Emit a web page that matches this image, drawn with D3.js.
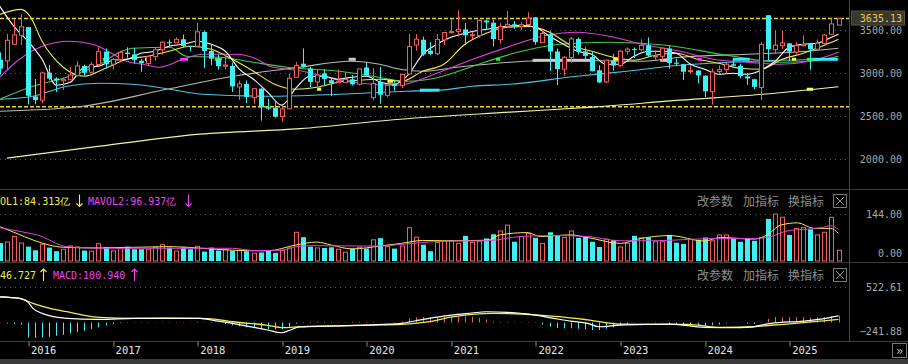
<!DOCTYPE html>
<html>
<head>
<meta charset="utf-8">
<style>
body { margin:0; background:#000; }
svg { display:block; }
text { font-family:"DejaVu Sans Mono","Liberation Mono",monospace; }
.cjk { font-family:"Noto Sans CJK SC",sans-serif; }
</style>
</head>
<body>
<svg width="908" height="364"></svg>
<script src="https://cdnjs.cloudflare.com/ajax/libs/d3/7.8.5/d3.min.js"></script>
<script>

// monthly candles, 2015-09 .. 2025-08
var open = [3157,3144,3337,3441,
  3536,2730,2687,3007,2939,2913,2924,2974,3084,3011,3102,3251,
  3105,3160,3240,3219,3145,3113,3193,3272,3360,3353,3395,3317,
  3314,3479,3259,3163,3081,3084,2841,2875,2717,2821,2604,2598,
  2497,2587,2954,3111,3055,2898,2998,2919,2890,2894,2929,2872,
  3067,2716,2899,2743,2878,2856,2991,3328,3389,3262,3227,3388,
  3474,3486,3509,3441,3437,3613,3587,3390,3546,3569,3546,3566,
  3649,3356,3451,3252,3047,3182,3398,3253,3190,3034,2899,3148,
  3087,3255,3282,3273,3325,3197,3197,3288,3123,3104,3022,3031,
  2972,2785,3020,3044,3104,3086,2964,2930,2835,3674,3273,3319,
  3347,3247,3320,3342,3280,3345,3453,3559];
var high = [3243,3457,3632,3684,
  3539,2934,3018,3097,2953,2951,3070,3140,3100,3132,3301,3288,
  3174,3261,3301,3295,3165,3200,3306,3375,3391,3418,3450,3320,
  3587,3495,3334,3220,3219,3124,2915,2916,2827,2827,2703,2667,
  2630,2997,3129,3288,3074,3048,3048,2944,3042,3009,2979,3053,
  3128,3058,3074,2862,2917,2995,3458,3455,3426,3361,3456,3474,
  3637,3732,3585,3481,3625,3627,3621,3581,3723,3608,3595,3708,
  3652,3507,3488,3286,3201,3424,3416,3301,3256,3092,3159,3226,
  3270,3300,3298,3394,3418,3263,3295,3322,3170,3108,3092,3036,
  2976,3055,3091,3119,3175,3111,3004,2936,3358,3674,3498,3494,
  3352,3362,3440,3353,3392,3455,3636,3645];
var low = [2983,3039,3327,3327,
  2638,2639,2652,2919,2781,2807,2924,2961,2969,3004,3092,3056,
  3044,3136,3180,3111,3016,3089,3147,3216,3317,3352,3301,3254,
  3314,3062,3091,3041,3041,2782,2691,2653,2644,2449,2573,2484,
  2440,2587,2952,3065,2838,2822,2862,2733,2890,2891,2857,2858,
  2967,2685,2646,2719,2797,2826,2989,3264,3202,3209,3212,3325,
  3463,3427,3328,3395,3414,3511,3312,3344,3536,3515,3505,3566,
  3331,3356,3023,2863,2970,3123,3219,3155,3021,2886,2885,3031,
  3073,3216,3174,3253,3191,3146,3131,3053,3085,2923,2996,2882,
  2724,2635,2993,2995,3086,2941,2865,2815,2689,3152,3229,3285,
  3140,3212,3311,3040,3256,3336,3449,3559];
var close = [3053,3383,3445,3539,
  2738,2688,3004,2938,2917,2930,2979,3085,3005,3100,3250,3104,
  3159,3242,3223,3155,3117,3192,3273,3361,3349,3393,3317,3307,
  3481,3259,3169,3082,3095,2847,2876,2725,2821,2603,2588,2494,
  2585,2941,3091,3078,2899,2979,2933,2886,2905,2929,2871,3050,
  2977,2880,2750,2860,2852,2985,3310,3396,3218,3225,3392,3473,
  3483,3509,3441,3447,3615,3591,3397,3544,3568,3547,3564,3640,
  3362,3462,3252,3047,3186,3399,3253,3202,3024,2893,3151,3089,
  3256,3280,3273,3323,3205,3202,3291,3120,3110,3018,3030,2975,
  2789,3015,3041,3105,3087,2967,2939,2842,3336,3279,3326,3352,
  3251,3321,3336,3279,3347,3444,3573,3635];

// volume, 亿手
var volume = [55,58,75,55,
  44,33,51,41,30,36,46,43,32,30,53,43,
  31,39,44,36,36,36,42,50,41,30,42,36,
  45,29,41,32,36,31,33,30,24,26,33,25,
  33,40,88,73,44,40,40,42,36,27,38,42,
  38,65,70,44,38,46,102,73,50,30,57,60,
  62,54,77,57,61,69,82,92,110,59,75,85,
  71,54,88,78,72,92,71,75,59,43,67,64,
  43,54,77,71,72,59,59,80,56,52,66,64,
  72,62,80,80,69,59,69,62,72,129,144,134,
  80,100,103,97,80,88,134,33];

// MACD bars
var macdBar = [5,-15,-25,-30,
  -220,-225,-220,-210,-195,-180,-160,-140,-120,-95,-70,-45,
  -25,-10,-5,-5,-5,-5,-3,5,5,5,5,5,
  10,5,5,-5,-20,-40,-55,-70,-80,-95,-100,-100,
  -95,-60,-15,10,12,12,12,12,10,10,10,12,
  12,10,5,5,8,15,60,75,80,75,80,85,
  90,95,90,85,70,45,15,10,10,5,5,5,
  -5,-30,-60,-80,-85,-85,-90,-100,-110,-110,-90,-70,
  -45,-20,-5,3,3,-5,-5,-25,-35,-45,-45,-50,
  -55,-40,-30,-10,-5,-5,-15,-20,10,55,80,85,
  80,80,80,75,75,80,90,101];

// moving averages: [month index, value]
var ma5 = [[0,3777],[2,3545],[4,3371],[6,3162],[8,2861],[10,2896],[12,3070],[14,3081],[16,3151],[18,3162],
  [20,3232],[22,3255],[24,3313],[26,3336],[28,3371],[30,3336],[32,3255],[34,3046],[36,2930],[38,2780],
  [40,2629],[42,2826],[44,2965],[46,2965],[48,2930],[50,2954],[52,2965],[54,2896],[56,2872],[58,2988],
  [60,3220],[62,3336],[64,3418],[66,3464],[68,3499],[70,3522],[72,3545],[74,3557],[76,3534],[78,3429],
  [80,3336],[82,3255],[84,3220],[86,3104],[88,3104],[90,3197],[92,3255],[94,3255],[96,3232],[98,3104],
  [100,3046],[102,2988],[104,3000],[106,2988],[108,3035],[110,3139],[112,3302],[114,3336],[116,3348],
  [118,3418],[119,3452]];
var ma10 = [[0,3684],[3,3742],[4.3,3661],[6,3371],[9,3070],[12,2965],[15,3058],[18,3162],[21,3197],
  [24,3255],[27,3313],[30,3278],[33,3162],[36,3023],[39,2872],[42,2814],[45,2837],[48,2896],[51,2919],
  [54,2930],[57,2907],[60,3023],[63,3104],[66,3336],[69,3464],[72,3534],[75,3545],[78,3476],[81,3325],
  [84,3255],[87,3186],[90,3151],[93,3209],[96,3232],[99,3162],[102,3116],[105,3058],[108,3046],
  [111,3162],[114,3232],[117,3325],[119,3394]];
var ma20 = [[0,2954],[2.8,3162],[5.7,3302],[9.9,3371],[13.2,3336],[15.6,3244],[18,3139],[20.3,3104],
  [22.7,3070],[26,3162],[28.8,3220],[33.6,3220],[36.5,3162],[38.3,3081],[43,3023],[48.2,2919],
  [52.9,2872],[56.3,2861],[62.4,3012],[67.1,3162],[72.4,3313],[77,3429],[81.9,3476],[86.5,3429],
  [91.2,3336],[96.5,3255],[101.2,3162],[106,3128],[110.7,3104],[114.9,3139],[119,3244]];
var ma30 = [[0,2698],[4.3,2838],[9.5,2954],[14.2,3104],[17,3244],[18.9,3290],[24.1,3302],[26.5,3197],
  [31.2,3186],[35.9,3128],[40.7,3070],[48.2,3023],[52.9,2965],[57.7,2907],[62.4,2954],[67.1,3081],
  [72.4,3220],[79.5,3336],[86.5,3360],[94.6,3325],[104,3197],[110.7,3128],[114.9,3139],[119,3197]];
var ma60 = [[0,2698],[4.7,2733],[9.5,2849],[14.2,2884],[18.9,2872],[24.1,2814],[28.8,2756],[38.3,2733],
  [48.2,2756],[57.7,2791],[62.4,2803],[67.1,2849],[72.4,2872],[81.9,2965],[89,3023],[96.5,3093],
  [103.6,3128],[110.7,3151],[119,3162]];
var ma120 = [[0,2559],[11.8,2617],[23.7,2814],[33.1,2965],[42.6,3070],[49.7,3139],[53.9,3104],
  [56.8,3046],[60,3023],[64.8,3070],[72.4,3128],[79.5,3151],[91.2,3139],[96.5,3186],[106,3220],
  [114.5,3255],[119,3290]];
var ma250 = [[1,2014],[14.2,2153],[28.4,2292],[42.6,2356],[56.8,2466],[72.4,2548],[84.1,2606],
  [96.5,2687],[108.3,2756],[119,2843]];

// short thick marks on the average lines: [month index, value, length in months, colour]
var marks = [[14.6,3162,0.8,"#33ee33"],[15.9,3150,0.6,"#ff33ff"],[20.6,3162,0.8,"#ffff33"],
  [25.6,3162,1.1,"#ff33ff"],[30.5,3162,1.0,"#33ee33"],[45,2814,0.6,"#ffff33"],[49.5,3162,1.0,"#cccccc"],
  [55,2907,0.8,"#ffff33"],[59.6,2803,2.8,"#33e8f8"],[70.4,3162,0.6,"#33ee33"],[75.6,3150,8.5,"#cccccc"],
  [87,3162,1.4,"#ffff33"],[93.7,3150,1.7,"#cccccc"],[99,3162,0.6,"#ff33ff"],[104,3162,2.4,"#33e8f8"],
  [112.4,3162,0.6,"#ffff33"],[114.5,3162,0.9,"#33ee33"],[115.4,3162,3.5,"#33e8f8"],[114.5,2814,0.9,"#ffff66"]];

var mavol1 = [[0,105],[2,88],[5,62],[7,49],[9,42],[14,40],[24,44],[33,33],[38,31],[42,49],[45,58],
  [47,49],[50,37],[54,46],[57,54],[60,63],[63,62],[64.4,62],[69.2,64],[71,80],[74.8,87],[76.7,75],
  [81,80],[83.4,72],[88.1,54],[90.5,67],[95.2,78],[99.9,61],[102.3,72],[107,67],[108.9,80],
  [110.8,110],[113.2,117],[115.5,100],[117.9,100],[119,84.313]];
var mavol2 = [[0,102],[3,90],[6,75],[8,54],[9.5,44],[14,39],[33,39],[36,32],[40,33],[42,44],[45,47],
  [50,46],[54,46],[57,51],[61.5,59],[64.4,61],[69.2,62],[73.9,75],[78.6,78],[83.4,75],[88.1,62],
  [92.8,62],[97.6,66],[102.3,69],[107,69],[109.4,75],[111.7,92],[114.1,97],[116.5,102],[117.9,108],
  [119,96.937]];

var dif = [[0,379],[2.8,356],[4,300],[4.7,209],[6,135],[9.5,62],[14,47],[19,62],[23.7,66],[28.4,62],
  [31,20],[33,-12],[36,-70],[38,-110],[40,-150],[41.2,-110],[42.6,-62],[47,-51],[52,-37],[57,-12],
  [59,26],[62,80],[64,110],[67,140],[69,159],[72,150],[76,110],[78.6,62],[81,20],[83.4,-12],[85,-62],
  [88,-37],[92,-25],[95.2,-22],[100,-71],[105,-76],[107,-60],[109.4,-12],[114,22],[116.5,50],[119,97]];
var dea = [[0,379],[2.8,356],[4.7,282],[7.1,209],[9.5,159],[11.8,110],[14.2,76],[19,62],[24,62],
  [28.4,62],[30.7,47],[33,12],[37.8,-37],[40.2,-76],[42.6,-62],[47,-51],[52,-37],[57,-26],[61,12],
  [64,80],[67,120],[70,135],[74,125],[77,105],[80,80],[83.4,40],[88,-22],[93,-26],[97.6,-26],
  [102.3,-71],[107,-62],[109.4,-40],[111.7,-22],[116.5,22],[119,46.727]];

var years = ["2016","2017","2018","2019","2020","2021","2022","2023","2024","2025"];
var yearIdx = [4,16,28,40,52,64,76,88,100,112];
var mainTicks = [3500,3000,2500,2000];
var lastPrice = 3635.13, lowLine = 2612;

var svg = d3.select("svg");
var plotR = 849;
var up = "#f25f5c", down = "#3ff0f2";

var x = d3.scaleLinear().domain([0, 119]).range([-0.2, 838.5]);
var yMain = d3.scaleLinear().domain([2000, 3500]).range([159.3, 30.2]);
var yVol = d3.scaleLinear().domain([0, 144]).range([261, 214]);
var yMacd = d3.scaleLinear().domain([-241.88, 522.61]).range([339, 287]);

svg.append("rect").attr("width", 908).attr("height", 364).attr("fill", "#000");

var defs = svg.append("defs");
function clip(id, y0, h) {
  defs.append("clipPath").attr("id", id).append("rect")
    .attr("x", 0).attr("y", y0).attr("width", plotR).attr("height", h);
}
clip("cMain", 0, 189);
clip("cVol", 190, 72);
clip("cMacd", 263, 78);

function cx(i) { return Math.round(x(i)) + 0.5; }

// ---------- main panel ----------
var gm = svg.append("g").attr("clip-path", "url(#cMain)");

gm.selectAll(".grid").data(mainTicks).enter().append("line")
    .attr("x1", 0).attr("x2", plotR)
    .attr("y1", function(d) { return Math.round(yMain(d)) + 0.5; })
    .attr("y2", function(d) { return Math.round(yMain(d)) + 0.5; })
    .attr("stroke", "#5a5a5a").attr("stroke-dasharray", "1,4");

[lastPrice, lowLine].forEach(function(v) {
  gm.append("line")
      .attr("x1", 0).attr("x2", plotR)
      .attr("y1", yMain(v)).attr("y2", yMain(v))
      .attr("stroke", "#e8d528").attr("stroke-width", 1.5)
      .attr("stroke-dasharray", "4,2");
});

var maLine = d3.line()
    .x(function(d) { return x(d[0]); })
    .y(function(d) { return yMain(d[1]); })
    .curve(d3.curveMonotoneX);

[[ma250, "#f2f2a0"], [ma120, "#b8b8b8"], [ma60, "#4cc4e6"], [ma30, "#44cc44"],
 [ma20, "#e040e0"], [ma10, "#f2ee48"], [ma5, "#ffffff"]].forEach(function(s) {
  gm.append("path").datum(s[0])
      .attr("fill", "none").attr("stroke", s[1]).attr("stroke-width", 1.1)
      .attr("d", maLine);
});

gm.selectAll(".mark").data(marks).enter().append("rect")
    .attr("x", function(d) { return x(d[0]); })
    .attr("y", function(d) { return yMain(d[1]) - 1.5; })
    .attr("width", function(d) { return x(d[0] + d[2]) - x(d[0]); })
    .attr("height", 3)
    .attr("fill", function(d) { return d[3]; });

var idx = d3.range(open.length);
var candle = gm.selectAll(".candle").data(idx).enter().append("g");
candle.append("line")
    .attr("x1", cx).attr("x2", cx)
    .attr("y1", function(i) { return yMain(high[i]); })
    .attr("y2", function(i) { return yMain(low[i]); })
    .attr("stroke", function(i) { return close[i] >= open[i] ? up : down; });
candle.append("rect")
    .attr("x", function(i) { return close[i] >= open[i] ? cx(i) - 2 : cx(i) - 2.5; })
    .attr("width", function(i) { return close[i] >= open[i] ? 4 : 5; })
    .attr("y", function(i) { return yMain(Math.max(open[i], close[i])); })
    .attr("height", function(i) { return Math.max(1, Math.abs(yMain(open[i]) - yMain(close[i]))); })
    .attr("fill", function(i) { return close[i] >= open[i] ? "#000" : down; })
    .attr("stroke", function(i) { return close[i] >= open[i] ? up : "none"; });

// ---------- volume panel ----------
var gv = svg.append("g").attr("clip-path", "url(#cVol)");
gv.append("line").attr("x1", 0).attr("x2", plotR)
    .attr("y1", Math.round(yVol(144)) + 0.5).attr("y2", Math.round(yVol(144)) + 0.5)
    .attr("stroke", "#5a5a5a").attr("stroke-dasharray", "1,4");
gv.selectAll(".vol").data(idx).enter().append("rect")
    .attr("x", function(i) { return close[i] >= open[i] ? cx(i) - 2 : cx(i) - 2.5; })
    .attr("width", function(i) { return close[i] >= open[i] ? 4 : 5; })
    .attr("y", function(i) { return yVol(volume[i]); })
    .attr("height", function(i) { return yVol(0) - yVol(volume[i]); })
    .attr("fill", function(i) { return close[i] >= open[i] ? "#000" : down; })
    .attr("stroke", function(i) { return close[i] >= open[i] ? up : "none"; });
var volLine = d3.line()
    .x(function(d) { return x(d[0]); })
    .y(function(d) { return yVol(d[1]); })
    .curve(d3.curveMonotoneX);
gv.append("path").datum(mavol1).attr("fill", "none").attr("stroke", "#f2ee48").attr("d", volLine);
gv.append("path").datum(mavol2).attr("fill", "none").attr("stroke", "#e040e0").attr("d", volLine);

// ---------- MACD panel ----------
var gc = svg.append("g").attr("clip-path", "url(#cMacd)");
gc.append("line").attr("x1", 0).attr("x2", plotR)
    .attr("y1", Math.round(yMacd(522.61)) + 0.5).attr("y2", Math.round(yMacd(522.61)) + 0.5)
    .attr("stroke", "#5a5a5a").attr("stroke-dasharray", "1,4");
gc.selectAll(".bar").data(idx).enter().append("line")
    .attr("x1", cx).attr("x2", cx)
    .attr("y1", yMacd(0))
    .attr("y2", function(i) { return yMacd(macdBar[i]); })
    .attr("stroke", function(i) { return macdBar[i] >= 0 ? up : down; });
var macdLine = d3.line()
    .x(function(d) { return x(d[0]); })
    .y(function(d) { return yMacd(d[1]); })
    .curve(d3.curveMonotoneX);
gc.append("path").datum(dea).attr("fill", "none").attr("stroke", "#f2ee48").attr("stroke-width", 1.3).attr("d", macdLine);
gc.append("path").datum(dif).attr("fill", "none").attr("stroke", "#ffffff").attr("stroke-width", 1.2).attr("d", macdLine);

// ---------- frames ----------
var frame = "#3c3c3c";
[189.5, 262.5, 341.5].forEach(function(y) {
  svg.append("line").attr("x1", 0).attr("x2", 908).attr("y1", y).attr("y2", y).attr("stroke", frame);
});
svg.append("line").attr("x1", plotR + 0.5).attr("x2", plotR + 0.5).attr("y1", 0).attr("y2", 342)
    .attr("stroke", "#4a4a4a");
svg.append("rect").attr("x", 0).attr("y", 359).attr("width", 908).attr("height", 5).attr("fill", "#3a3a3a");

// right axes
function rightAxis(scale, vals, color) {
  var g = svg.append("g").attr("transform", "translate(902,0)")
      .call(d3.axisLeft(scale).tickValues(vals).tickFormat(d3.format(".2f")).tickSize(0).tickPadding(0));
  g.select(".domain").remove();
  g.selectAll("text").attr("fill", color).attr("font-size", 10)
      .style("font-family", "'DejaVu Sans Mono',monospace");
  return g;
}
rightAxis(yMain, mainTicks, "#a8a8a8");
var gvA = rightAxis(yVol, [144, 0], "#a8a8a8");
gvA.selectAll("text").attr("dy", function(d) { return d === 0 ? "-0.5em" : "0.3em"; });
var gcA = rightAxis(yMacd, [522.61, -241.88], "#a8a8a8");
gcA.selectAll("text").attr("dy", function(d) { return d < 0 ? "-0.5em" : "0.32em"; });

svg.append("rect").attr("x", 851.5).attr("y", yMain(lastPrice) - 7.5).attr("width", 53).attr("height", 14)
    .attr("fill", "#38382e").attr("stroke", "#55554a");
svg.append("text").attr("x", 902).attr("y", yMain(lastPrice) + 3.5).attr("text-anchor", "end")
    .attr("font-size", 10).attr("fill", "#f0c850").text(d3.format(".2f")(lastPrice));

// time axis
var gx = svg.append("g").attr("transform", "translate(0,341.5)")
    .call(d3.axisBottom(x).tickValues(yearIdx)
      .tickFormat(function(d, k) { return years[k]; }).tickSize(5).tickPadding(3));
gx.select(".domain").remove();
gx.selectAll("line").attr("stroke", "#8a8a8a").attr("transform", function(d) { return "translate(" + (cx(d) - x(d)) + ",0)"; });
gx.selectAll("text").attr("fill", "#e6e6e6").attr("font-size", 10.5).attr("text-anchor", "start")
    .attr("x", 2.5).attr("y", 5).style("font-family", "'DejaVu Sans Mono',monospace");

svg.append("rect").attr("x", 892.5).attr("y", 343.5).attr("width", 14).attr("height", 14)
    .attr("fill", "none").attr("stroke", "#7a7a7a");
svg.append("text").attr("x", 899.5).attr("y", 354.5).attr("text-anchor", "middle")
    .attr("font-size", 12).attr("fill", "#bbbbbb").text("»");

// legends (left part of each title runs off the panel edge, as in the reference)
function legend(y, items) {
  items.forEach(function(it) {
    svg.append("text").attr("x", it[0]).attr("y", y).attr("font-size", 10)
        .attr("fill", it[2]).text(it[1]);
  });
}
function arrow(xa, yc, dir, color) {
  var t = yc - 6, b = yc + 6, tip = dir > 0 ? t : b, s = dir > 0 ? 3 : -3;
  svg.append("path")
      .attr("d", "M" + xa + "," + t + "V" + b + "M" + (xa - 3) + "," + (tip + s) + "L" + xa + "," + tip + "L" + (xa + 3) + "," + (tip + s))
      .attr("fill", "none").attr("stroke", color).attr("stroke-width", 1.1);
}
legend(204.5, [[0, "OL1:84.313亿", "#f2ee48"], [88, "MAVOL2:96.937亿", "#ee44ee"]]);
arrow(79.5, 200.5, -1, "#f2ee48");
arrow(188.5, 200.5, -1, "#ee44ee");
legend(279, [[0, "46.727", "#f2ee48"], [53, "MACD:100.940", "#ee44ee"]]);
arrow(43.5, 275, 1, "#f2ee48");
arrow(134.5, 275, 1, "#ee44ee");

// panel buttons
[201, 275].forEach(function(yc) {
  [[697, "改参数"], [743, "加指标"], [788, "换指标"]].forEach(function(b) {
    svg.append("text").attr("class", "cjk").attr("x", b[0]).attr("y", yc + 4.5)
        .attr("font-size", 12).attr("fill", "#8e8e8e").text(b[1]);
  });
  svg.append("rect").attr("x", 833.5).attr("y", yc - 6.5).attr("width", 13).attr("height", 13)
      .attr("fill", "none").attr("stroke", "#7a7a7a");
  svg.append("path").attr("d", "M836," + (yc - 4) + "L844," + (yc + 4) + "M844," + (yc - 4) + "L836," + (yc + 4))
      .attr("stroke", "#8e8e8e");
});

</script>
</body>
</html>
